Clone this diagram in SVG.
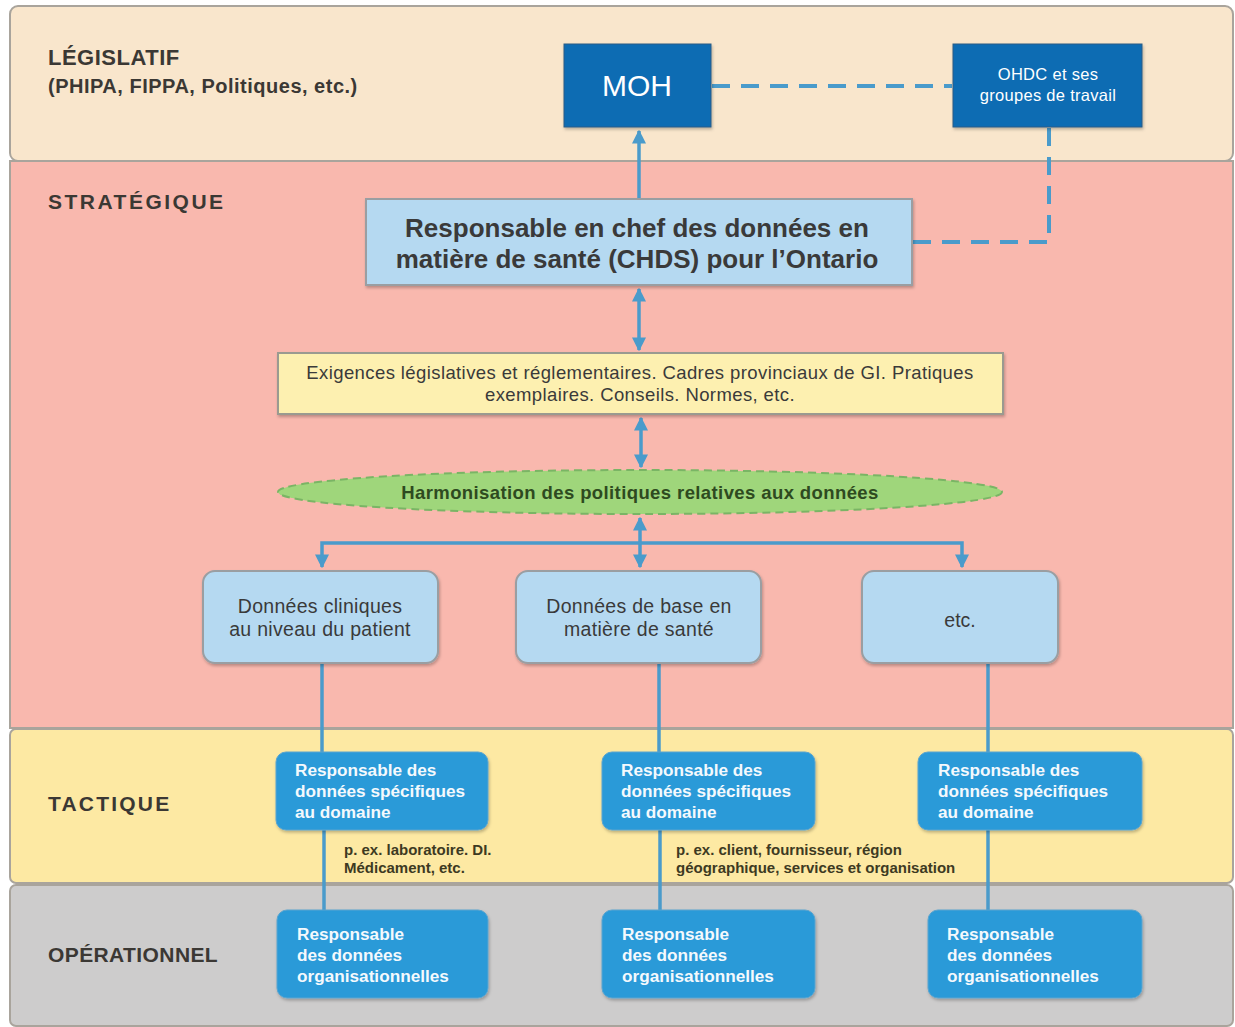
<svg xmlns="http://www.w3.org/2000/svg" width="1235" height="1027" viewBox="0 0 1235 1027">
<defs>
<style>
.band{stroke:#a9a49c;stroke-width:2}
.lbl{font-family:"Liberation Sans",Arial,sans-serif;font-weight:bold;fill:#3b3834}
.dark{fill:#0f6cb3;stroke:#2c5d86;stroke-width:1}
.light{fill:#b5d9f1;stroke:#9a9ea2;stroke-width:2}
.mid{fill:#2b9ad8;stroke:#5aa4cf;stroke-width:1}
.wt{font-family:"Liberation Sans",Arial,sans-serif;fill:#ffffff}
.wb{font-family:"Liberation Sans",Arial,sans-serif;font-weight:bold;font-size:17.2px;fill:#f4f9fd}
.gt{font-family:"Liberation Sans",Arial,sans-serif;fill:#3a3a3a;text-anchor:middle}
.ann{font-family:"Liberation Sans",Arial,sans-serif;font-weight:bold;font-size:15px;fill:#3d3a22}
.con{stroke:#4a9bcb;stroke-width:3.5;fill:none}
.dash{stroke:#4a9bcb;stroke-width:4;fill:none;stroke-dasharray:18 11}
</style>
<marker id="ah" viewBox="0 0 10 10" refX="9" refY="5" markerWidth="4" markerHeight="4" orient="auto-start-reverse">
<path d="M0,0 L10,5 L0,10 z" fill="#4a9bcb"/>
</marker>
<filter id="sh" x="-10%" y="-10%" width="120%" height="130%">
<feDropShadow dx="1" dy="2" stdDeviation="1.5" flood-color="#000" flood-opacity="0.25"/>
</filter>
</defs>

<g id="bands">
<rect class="band" x="10" y="6" width="1223" height="155" rx="8" fill="#f9e6cc"/>
<rect class="band" x="10" y="161" width="1223" height="567" fill="#f9b8ae"/>
<rect class="band" x="10" y="729" width="1223" height="154" rx="6" fill="#fde9a3"/>
<rect class="band" x="10" y="885" width="1223" height="141" rx="6" fill="#cdcccc"/>
<text class="lbl" x="48" y="65" font-size="22" letter-spacing="0.5">LÉGISLATIF</text>
<text class="lbl" x="48" y="93" font-size="20" letter-spacing="0.5">(PHIPA, FIPPA, Politiques, etc.)</text>
<text class="lbl" x="48" y="209" font-size="21" letter-spacing="2.5">STRATÉGIQUE</text>
<text class="lbl" x="48" y="811" font-size="21" letter-spacing="2.2">TACTIQUE</text>
<text class="lbl" x="48" y="962" font-size="21" letter-spacing="0.4">OPÉRATIONNEL</text>
</g>

<g id="connectors">
<line class="dash" x1="712" y1="86" x2="952" y2="86"/>
<polyline class="dash" points="1049,128 1049,242 913,242"/>
<line class="con" x1="639" y1="199" x2="639" y2="131" marker-end="url(#ah)"/>
<line class="con" x1="639" y1="289" x2="639" y2="350" marker-start="url(#ah)" marker-end="url(#ah)"/>
<line class="con" x1="641" y1="418" x2="641" y2="467" marker-start="url(#ah)" marker-end="url(#ah)"/>
<line class="con" x1="640" y1="518" x2="640" y2="567" marker-start="url(#ah)" marker-end="url(#ah)"/>
<polyline class="con" points="322,567 322,543 962,543 962,567" marker-start="url(#ah)" marker-end="url(#ah)"/>
<line class="con" x1="322" y1="663" x2="322" y2="752"/>
<line class="con" x1="659" y1="663" x2="659" y2="752"/>
<line class="con" x1="988" y1="663" x2="988" y2="752"/>
<line class="con" x1="324" y1="830" x2="324" y2="910"/>
<line class="con" x1="660" y1="830" x2="660" y2="910"/>
<line class="con" x1="988" y1="830" x2="988" y2="910"/>
<text class="ann" x="344" y="855">p. ex. laboratoire. DI.</text>
<text class="ann" x="344" y="873">Médicament, etc.</text>
<text class="ann" x="676" y="855">p. ex. client, fournisseur, région</text>
<text class="ann" x="676" y="873">géographique, services et organisation</text>
</g>

<g id="moh">
<rect class="dark" x="564" y="44" width="147" height="83" filter="url(#sh)"/>
<text class="wt" x="637" y="96" font-size="30" text-anchor="middle">MOH</text>
</g>

<g id="ohdc">
<rect class="dark" x="953" y="44" width="189" height="83" filter="url(#sh)"/>
<text class="wt" x="1048" y="80" font-size="16.5" letter-spacing="0.3" text-anchor="middle">OHDC et ses</text>
<text class="wt" x="1048" y="101" font-size="16.5" letter-spacing="0.3" text-anchor="middle">groupes de travail</text>
</g>

<g id="chds">
<rect class="light" x="366" y="199" width="546" height="86" filter="url(#sh)"/>
<text class="gt" x="637" y="237" font-size="26" font-weight="bold">Responsable en chef des données en</text>
<text class="gt" x="637" y="268" font-size="26" font-weight="bold">matière de santé (CHDS) pour l’Ontario</text>
</g>

<g id="exigences">
<rect x="278" y="353" width="725" height="61" fill="#fdf0b0" stroke="#9a9a90" stroke-width="2" filter="url(#sh)"/>
<text class="gt" x="640" y="379" font-size="18.5" letter-spacing="0.4">Exigences législatives et réglementaires. Cadres provinciaux de GI. Pratiques</text>
<text class="gt" x="640" y="401" font-size="18.5" letter-spacing="0.4">exemplaires. Conseils. Normes, etc.</text>
</g>

<g id="harmonisation">
<ellipse cx="640" cy="492" rx="362" ry="22" fill="#9fd67b" stroke="#7ab565" stroke-width="2" stroke-dasharray="8 5"/>
<text x="640" y="499" font-family="'Liberation Sans',Arial,sans-serif" font-size="18.5" font-weight="bold" letter-spacing="0.4" fill="#2e4a20" text-anchor="middle">Harmonisation des politiques relatives aux données</text>
</g>

<g id="donnees-cliniques">
<rect class="light" x="203" y="571" width="235" height="92" rx="12" filter="url(#sh)"/>
<text class="gt" x="320" y="613" font-size="19.5" letter-spacing="0.3">Données cliniques</text>
<text class="gt" x="320" y="636" font-size="19.5" letter-spacing="0.3">au niveau du patient</text>
</g>

<g id="donnees-base">
<rect class="light" x="516" y="571" width="245" height="92" rx="12" filter="url(#sh)"/>
<text class="gt" x="639" y="613" font-size="19.5" letter-spacing="0.3">Données de base en</text>
<text class="gt" x="639" y="636" font-size="19.5" letter-spacing="0.3">matière de santé</text>
</g>

<g id="etc">
<rect class="light" x="862" y="571" width="196" height="92" rx="12" filter="url(#sh)"/>
<text class="gt" x="960" y="627" font-size="19.5">etc.</text>
</g>

<g id="tactique-1">
<rect class="mid" x="276" y="752" width="212" height="78" rx="10" filter="url(#sh)"/>
<text class="wb" x="295" y="776">Responsable des</text>
<text class="wb" x="295" y="797">données spécifiques</text>
<text class="wb" x="295" y="818">au domaine</text>
</g>

<g id="tactique-2">
<rect class="mid" x="602" y="752" width="213" height="78" rx="10" filter="url(#sh)"/>
<text class="wb" x="621" y="776">Responsable des</text>
<text class="wb" x="621" y="797">données spécifiques</text>
<text class="wb" x="621" y="818">au domaine</text>
</g>

<g id="tactique-3">
<rect class="mid" x="918" y="752" width="224" height="78" rx="10" filter="url(#sh)"/>
<text class="wb" x="938" y="776">Responsable des</text>
<text class="wb" x="938" y="797">données spécifiques</text>
<text class="wb" x="938" y="818">au domaine</text>
</g>

<g id="operationnel-1">
<rect class="mid" x="277" y="910" width="211" height="88" rx="10" filter="url(#sh)"/>
<text class="wb" x="297" y="940">Responsable</text>
<text class="wb" x="297" y="961">des données</text>
<text class="wb" x="297" y="982">organisationnelles</text>
</g>

<g id="operationnel-2">
<rect class="mid" x="602" y="910" width="213" height="88" rx="10" filter="url(#sh)"/>
<text class="wb" x="622" y="940">Responsable</text>
<text class="wb" x="622" y="961">des données</text>
<text class="wb" x="622" y="982">organisationnelles</text>
</g>

<g id="operationnel-3">
<rect class="mid" x="928" y="910" width="214" height="88" rx="10" filter="url(#sh)"/>
<text class="wb" x="947" y="940">Responsable</text>
<text class="wb" x="947" y="961">des données</text>
<text class="wb" x="947" y="982">organisationnelles</text>
</g>
</svg>
